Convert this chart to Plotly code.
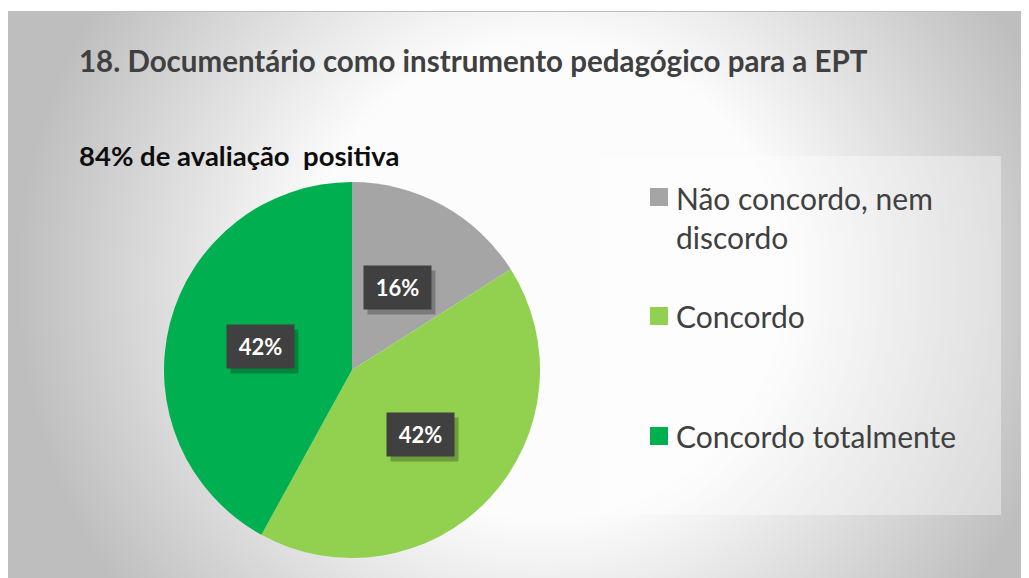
import base64
import math
import struct
import zlib

import numpy as np
import plotly.graph_objects as go

# Data
categories = ["Não concordo, nem discordo", "Concordo", "Concordo totalmente"]
values = [16, 42, 42]
colors = ["#A5A5A5", "#92D050", "#00B050"]
legend_labels = ["Não concordo, nem<br>discordo", "Concordo", "Concordo totalmente"]
title_text = "18. Documentário como instrumento pedagógico para a EPT"
subtitle_text = "84% de avaliação  positiva"

# the page body has an 8px margin, so the figure is shrunk to fit the window
OFF = 8
W, H = 1029 - OFF, 578 - OFF
FONT = "Lato"


def px(x):
    return (x - OFF) / W


def py(y):
    return 1 - (y - OFF) / H


def png_uri(img):
    # minimal png encoder for an RGB uint8 array
    h, w, _ = img.shape
    raw = b"".join(b"\x00" + img[r].tobytes() for r in range(h))

    def chunk(tag, data):
        c = struct.pack(">I", len(data)) + tag + data
        return c + struct.pack(">I", zlib.crc32(tag + data) & 0xFFFFFFFF)

    png = b"\x89PNG\r\n\x1a\n"
    png += chunk(b"IHDR", struct.pack(">IIBBBBB", w, h, 8, 2, 0, 0, 0))
    png += chunk(b"IDAT", zlib.compress(raw, 9))
    png += chunk(b"IEND", b"")
    return "data:image/png;base64," + base64.b64encode(png).decode()


# radial grey background like the office chart area (screen coords)
yy, xx = np.mgrid[0:H, 0:W]
xx = xx + OFF
yy = yy + OFF
d = np.sqrt((xx - 545.0) ** 2 + (yy - 280.0) ** 2)
t = np.clip((d - 240.0) / 290.0, 0, 1)
g = 252 - 62 * t
g[yy < 11] = 255
g[yy == 11] = 190
g[(xx == 8) & (yy >= 11)] = 190
bg = np.repeat(g[:, :, None], 3, axis=2).astype(np.uint8)

fig = go.Figure()

# pie geometry in screen pixels
cx, cy, R = 352, 370, 188

fig.add_trace(go.Pie(
    labels=categories,
    values=values,
    marker=dict(colors=colors, line=dict(width=0)),
    sort=False,
    direction="clockwise",
    rotation=0,
    textinfo="none",
    hoverinfo="label+percent",
    showlegend=False,
    domain=dict(x=[px(cx - R), px(cx + R)], y=[py(cy + R), py(cy - R)]),
))

annotations = []
shapes = []

# data labels in dark boxes
total = sum(values)
cum = 0
for v in values:
    ang = (cum + v / 2) / total * 2 * math.pi
    cum += v
    lx = cx + 0.5 * R * math.sin(ang)
    ly = cy - 0.5 * R * math.cos(ang)
    # soft shadow
    annotations.append(dict(
        x=px(lx + 4), y=py(ly + 5), xref="paper", yref="paper",
        xanchor="center", yanchor="middle",
        text=" ", showarrow=False, width=65, height=41,
        bgcolor="rgba(0,0,0,0.25)", font=dict(size=20),
    ))
    annotations.append(dict(
        x=px(lx), y=py(ly), xref="paper", yref="paper",
        xanchor="center", yanchor="middle",
        text=f"<b>{round(v / total * 100)}%</b>", showarrow=False,
        width=65, height=41, bgcolor="#404040",
        font=dict(family=FONT, size=22, color="white"),
    ))

# title and subtitle
annotations.append(dict(
    x=px(77), y=py(60), xref="paper", yref="paper",
    xanchor="left", yanchor="middle",
    text=f"<b>{title_text}</b>", showarrow=False,
    font=dict(family=FONT, size=29.5, color="#404040"),
))
annotations.append(dict(
    x=px(77), y=py(155), xref="paper", yref="paper",
    xanchor="left", yanchor="middle",
    text=f"<b>{subtitle_text}</b>", showarrow=False,
    font=dict(family=FONT, size=27.5, color="#0d0d0d"),
))

# legend box
shapes.append(dict(
    type="rect", xref="paper", yref="paper",
    x0=px(600), x1=px(1001), y0=py(515), y1=py(156),
    fillcolor="rgba(255,255,255,0.38)", line=dict(width=0), layer="below",
))

legend_y = [197, 316, 436]
line_gap = 41
for lab, col, ly in zip(legend_labels, colors, legend_y):
    shapes.append(dict(
        type="rect", xref="paper", yref="paper",
        x0=px(650), x1=px(668), y0=py(ly + 9), y1=py(ly - 9),
        fillcolor=col, line=dict(width=0),
    ))
    n = lab.count("<br>")
    annotations.append(dict(
        x=px(674), y=py(ly + n * line_gap / 2), xref="paper", yref="paper",
        xanchor="left", yanchor="middle", align="left",
        text=lab, showarrow=False,
        font=dict(family=FONT, size=30, color="#404040"),
    ))

fig.update_layout(
    width=W,
    height=H,
    margin=dict(l=0, r=0, t=0, b=0),
    paper_bgcolor="white",
    plot_bgcolor="rgba(0,0,0,0)",
    images=[dict(source=png_uri(bg), xref="paper", yref="paper",
                 x=0, y=1, sizex=1, sizey=1, xanchor="left", yanchor="top",
                 sizing="stretch", layer="below")],
    annotations=annotations,
    shapes=shapes,
)

fig.write_html("out.html")
